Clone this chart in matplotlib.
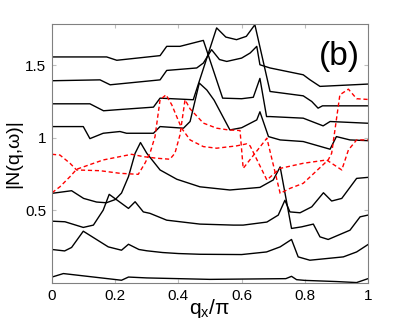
import matplotlib
matplotlib.use("Agg")
import matplotlib.pyplot as plt

# ---- data ----
xA = [0, 0.036, 0.22, 0.242, 0.3, 0.5, 0.74, 0.758, 0.774, 0.8, 0.9, 0.964, 1]
yA = [0.041, 0.065, 0.019, 0.041, 0.035, 0.025, 0.03, 0.046, 0.023, 0.018, 0.01, 0.003, 0.03]

xB = [0, 0.04, 0.062, 0.099, 0.178, 0.22, 0.242, 0.275, 0.3, 0.35, 0.4, 0.468, 0.6, 0.679, 0.722, 0.758, 0.779, 0.816, 0.922, 0.964, 1]
yB = [0.231, 0.221, 0.245, 0.357, 0.249, 0.226, 0.267, 0.231, 0.222, 0.21, 0.203, 0.198, 0.196, 0.214, 0.249, 0.3, 0.18, 0.157, 0.18, 0.214, 0.265]

xC = [0, 0.041, 0.099, 0.131, 0.162, 0.181, 0.242, 0.263, 0.289, 0.31, 0.363, 0.468, 0.574, 0.605, 0.68, 0.716, 0.737, 0.753, 0.785, 0.822, 0.859, 0.885, 0.917, 0.964, 1]
yC = [0.426, 0.422, 0.383, 0.399, 0.502, 0.611, 0.514, 0.56, 0.49, 0.48, 0.433, 0.406, 0.399, 0.399, 0.42, 0.468, 0.57, 0.49, 0.484, 0.525, 0.622, 0.565, 0.583, 0.721, 0.728]

xD = [0, 0.062, 0.1, 0.141, 0.172, 0.2, 0.22, 0.242, 0.263, 0.28, 0.3, 0.342, 0.395, 0.468, 0.563, 0.658, 0.7, 0.722, 0.758, 0.79, 0.827, 0.848, 0.874, 0.943, 0.975, 1]
yD = [0.618, 0.636, 0.583, 0.558, 0.553, 0.575, 0.62, 0.733, 0.894, 0.968, 0.894, 0.779, 0.715, 0.663, 0.641, 0.659, 0.71, 0.80, 0.376, 0.387, 0.406, 0.318, 0.3, 0.364, 0.456, 0.468]

xE = [0, 0.099, 0.12, 0.162, 0.215, 0.236, 0.321, 0.342, 0.416, 0.437, 0.466, 0.49, 0.513, 0.563, 0.6, 0.648, 0.658, 0.685, 0.722, 0.795, 0.88, 0.9, 0.943, 1]
yE = [1.078, 1.078, 0.995, 1.032, 1.044, 1.032, 1.032, 1.078, 1.067, 1.113, 1.378, 1.33, 1.26, 1.055, 1.07, 1.124, 1.18, 1.009, 0.986, 0.975, 0.922, 1.009, 0.986, 0.981]

xF = [0, 0.12, 0.163, 0.205, 0.321, 0.342, 0.447, 0.521, 0.55, 0.584, 0.615, 0.642, 0.69, 0.795, 0.822, 0.842, 0.856, 1]
yF = [1.235, 1.235, 1.187, 1.194, 1.212, 1.274, 1.263, 1.758, 1.695, 1.677, 1.7, 1.78, 1.32, 1.29, 1.251, 1.205, 1.221, 1.221]

xG = [0, 0.152, 0.184, 0.342, 0.363, 0.458, 0.479, 0.505, 0.53, 0.553, 0.6, 0.627, 0.648, 0.658, 0.69, 0.795, 0.816, 0.848, 1]
yG = [1.394, 1.40, 1.366, 1.40, 1.465, 1.482, 1.516, 1.608, 1.54, 1.527, 1.55, 1.585, 1.631, 1.504, 1.482, 1.435, 1.401, 1.355, 1.371]

xH = [0, 0.173, 0.205, 0.342, 0.363, 0.405, 0.479, 0.54, 0.6, 0.637, 0.658, 0.679, 0.69, 0.795, 0.858, 0.88, 1]
yH = [1.558, 1.558, 1.535, 1.567, 1.631, 1.631, 1.672, 1.274, 1.27, 1.28, 1.41, 1.147, 1.147, 1.136, 1.083, 1.113, 1.101]

xRa = [0, 0.025, 0.057, 0.078, 0.152, 0.215, 0.273, 0.294, 0.31, 0.326, 0.342, 0.361, 0.379, 0.41, 0.437, 0.479, 0.521, 0.584, 0.616, 0.627, 0.68, 0.722, 0.795, 0.869, 0.917, 0.938, 0.964, 1]
yRa = [0.887, 0.882, 0.825, 0.779, 0.774, 0.756, 0.749, 0.825, 0.894, 1.009, 1.263, 1.297, 1.228, 1.067, 0.986, 0.94, 0.929, 0.945, 0.959, 0.945, 0.71, 0.79, 0.825, 0.848, 0.779, 0.917, 0.986, 0.986]

xRb = [0, 0.025, 0.057, 0.078, 0.099, 0.162, 0.252, 0.289, 0.331, 0.373, 0.389, 0.405, 0.421, 0.437, 0.479, 0.521, 0.558, 0.595, 0.605, 0.68, 0.722, 0.753, 0.795, 0.874, 0.885, 0.911, 0.938, 0.964, 1]
yRb = [0.622, 0.663, 0.733, 0.784, 0.80, 0.848, 0.887, 0.871, 0.86, 0.853, 0.894, 1.021, 1.263, 1.2, 1.102, 1.067, 1.055, 1.051, 0.79, 0.998, 0.618, 0.652, 0.687, 0.848, 0.894, 1.297, 1.336, 1.27, 1.265]

black_x = [xA, xB, xC, xD, xE, xF, xG, xH]
black_y = [yA, yB, yC, yD, yE, yF, yG, yH]
red_x = [xRa, xRb]
red_y = [yRa, yRb]

xticks = [0, 0.2, 0.4, 0.6, 0.8, 1]
xticklabels = ["0", "0.2", "0.4", "0.6", "0.8", "1"]
yticks = [0.5, 1, 1.5]
yticklabels = ["0.5", "1", "1.5"]

plt.rcParams['font.family'] = ['Liberation Sans Narrow', 'Liberation Sans', 'DejaVu Sans']

fig = plt.figure(figsize=(4.07, 3.32), dpi=100)
ax = fig.add_axes([52/407, 49/332, 316/407, 259/332])

for xs, ys in zip(black_x, black_y):
    ax.plot(xs, ys, color='black', lw=1.0)
for xs, ys in zip(red_x, red_y):
    ax.plot(xs, ys, color='red', lw=1.0, linestyle=(0, (3, 2)))

ax.set_xlim(0, 1)
ax.set_ylim(0, 1.785)
ax.set_xticks(xticks)
ax.set_xticklabels(xticklabels)
ax.set_yticks(yticks)
ax.set_yticklabels(yticklabels)
ax.tick_params(direction='in', length=3, width=0.8, color='0.75', labelsize=11,
               top=True, right=True, pad=4)
for s in ax.spines.values():
    s.set_color('0.5')
    s.set_linewidth(0.8)

ax.set_xlabel('q$_{\\mathregular{x}}$/π', fontsize=15, labelpad=-4)
ax.set_ylabel('|N(q,ω)|', fontsize=14, labelpad=2)
ax.text(0.91, 1.56, '(b)', fontsize=24, ha='center', va='center')

fig.savefig('out.png', dpi=100)
